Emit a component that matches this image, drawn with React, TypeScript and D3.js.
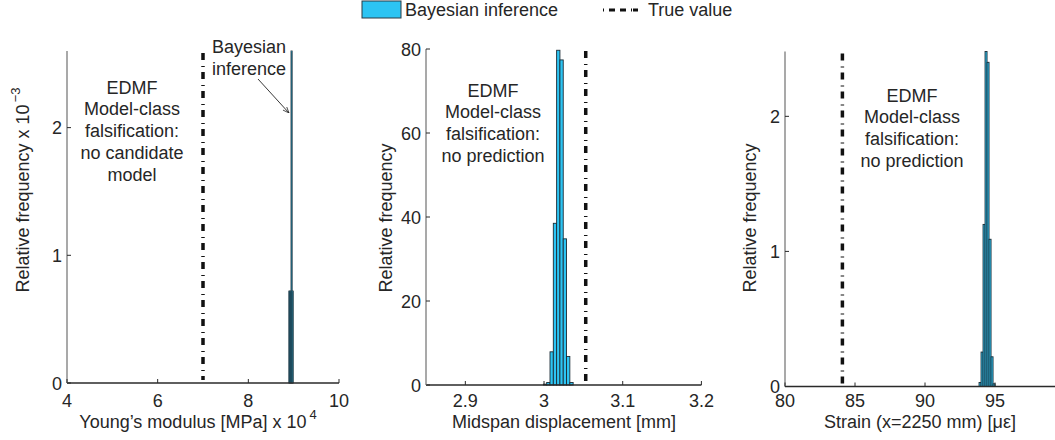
import React from "react";
import * as d3 from "d3";

// ---------- data ----------
const youngBinStarts = [8.894, 8.918, 8.942, 8.966];
const youngBinWidth = 0.024;
const youngFreq = [0.72, 0.72, 2.6, 0.72]; // x 10^-3
const youngTrue = 7;
const youngXTicks = [4, 6, 8, 10];
const youngYTicks = [0, 1, 2];

const dispBinStarts = [2.9992, 3.0034, 3.0076, 3.0118, 3.016, 3.0202, 3.0244, 3.0286, 3.0328];
const dispBinWidth = 0.0042;
const dispFreq = [0.2, 0.6, 7.9, 38.5, 79.7, 77.4, 34.8, 6.8, 0.6];
const dispTrue = 3.053;
const dispXTicks = [2.9, 3, 3.1, 3.2];
const dispYTicks = [0, 20, 40, 60, 80];

const strainBinStarts = [93.86, 94.003, 94.146, 94.289, 94.432, 94.575, 94.718, 94.861];
const strainBinWidth = 0.143;
const strainFreq = [0.03, 0.255, 1.2, 2.48, 2.4, 1.09, 0.22, 0.02];
const strainTrue = 84.1;
const strainXTicks = [80, 85, 90, 95];
const strainYTicks = [0, 1, 2];

const legendLabels = ["Bayesian inference", "True value"];

const FONT = "'Liberation Sans', Arial, Helvetica, sans-serif";
const FS = 18;
const TXT = "#262626";
const BAR_FILL = "#2cc4f3";
const BAR_STROKE = "#1b2c36";

type PanelProps = {
  xDomain: [number, number];
  xRange: [number, number];
  yDomain: [number, number];
  yRange: [number, number];
  binStarts: number[];
  binWidth: number;
  freq: number[];
  trueVal: number;
  xTicks: number[];
  yTicks: number[];
  xLabel: React.ReactNode;
  xLabelX: number;
  yLabel: React.ReactNode;
  yLabelX: number;
  yLabelY: number;
  notes: string[];
  notesX: number;
  notesY: number;
};

function Panel(p: PanelProps) {
  const x = d3.scaleLinear().domain(p.xDomain).range(p.xRange);
  const y = d3.scaleLinear().domain(p.yDomain).range(p.yRange);
  const [x0, x1] = p.xRange;
  const [yb, yt] = p.yRange;
  return (
    <g>
      {p.binStarts.map((s, i) => (
        <rect
          key={i}
          x={x(s)}
          y={y(p.freq[i])}
          width={x(s + p.binWidth) - x(s)}
          height={y(0) - y(p.freq[i])}
          fill={BAR_FILL}
          stroke={BAR_STROKE}
          strokeWidth={0.9}
        />
      ))}
      <line
        x1={x(p.trueVal)}
        x2={x(p.trueVal)}
        y1={yt + 2}
        y2={yb - 3}
        stroke="#111"
        strokeWidth={3.5}
        strokeDasharray="7 6 1 5"
      />
      <line x1={x0} x2={x1} y1={yb} y2={yb} stroke="#2a2a2a" strokeWidth={1.5} />
      <line x1={x0} x2={x0} y1={yb} y2={yt} stroke="#8c8c8c" strokeWidth={1.5} />
      {p.xTicks.map((t) => (
        <g key={"xt" + t}>
          <line x1={x(t)} x2={x(t)} y1={yb} y2={yb - 4} stroke="#2a2a2a" strokeWidth={1} />
          <text x={x(t)} y={407} textAnchor="middle" fontSize={FS} fill={TXT}>
            {t}
          </text>
        </g>
      ))}
      {p.yTicks.map((t) => (
        <g key={"yt" + t}>
          <line x1={x0} x2={x0 + 4} y1={y(t)} y2={y(t)} stroke="#2a2a2a" strokeWidth={1} />
          <text x={x0 - 5} y={y(t) + 6.5} textAnchor="end" fontSize={FS} fill={TXT}>
            {t}
          </text>
        </g>
      ))}
      <text x={p.xLabelX} y={428} textAnchor="middle" fontSize={FS} fill={TXT}>
        {p.xLabel}
      </text>
      <text
        transform={`translate(${p.yLabelX},${p.yLabelY}) rotate(-90)`}
        textAnchor="middle"
        fontSize={FS}
        fill={TXT}
      >
        {p.yLabel}
      </text>
      {p.notes.map((n, i) => (
        <text key={i} x={p.notesX} y={p.notesY + i * 21.8} textAnchor="middle" fontSize={FS} fill={TXT}>
          {n}
        </text>
      ))}
    </g>
  );
}

export default function App() {
  return (
    <svg
      width={1055}
      height={440}
      style={{ position: "absolute", left: 0, top: 0, background: "#fff", fontFamily: FONT }}
    >
      <rect width={1055} height={440} fill="#fff" />
      {/* legend */}
      <rect x={362} y={1} width={39} height={17} fill={BAR_FILL} stroke="#2a3a44" strokeWidth={1} />
      <text x={405} y={16} fontSize={FS} fill={TXT}>
        {legendLabels[0]}
      </text>
      <line x1={603} x2={643} y1={10} y2={10} stroke="#111" strokeWidth={3} strokeDasharray="1 5 6 5 6 5 1" />
      <text x={648} y={16} fontSize={FS} fill={TXT}>
        {legendLabels[1]}
      </text>

      <Panel
        xDomain={[4, 10]}
        xRange={[67, 339]}
        yDomain={[0, 2.6]}
        yRange={[383, 51]}
        binStarts={youngBinStarts}
        binWidth={youngBinWidth}
        freq={youngFreq}
        trueVal={youngTrue}
        xTicks={youngXTicks}
        yTicks={youngYTicks}
        xLabel={
          <>
            Young’s modulus [MPa] x 10
            <tspan dx={3} dy={-9} fontSize={13}>
              4
            </tspan>
          </>
        }
        xLabelX={198}
        yLabel={
          <>
            Relative frequency x 10
            <tspan dx={2} dy={-9} fontSize={13}>
              −3
            </tspan>
          </>
        }
        yLabelX={29}
        yLabelY={190}
        notes={["EDMF", "Model-class", "falsification:", "no candidate", "model"]}
        notesX={132}
        notesY={93.5}
      />
      <text x={249} y={52.5} textAnchor="middle" fontSize={FS} fill={TXT}>
        Bayesian
      </text>
      <text x={249} y={74.5} textAnchor="middle" fontSize={FS} fill={TXT}>
        inference
      </text>
      <defs>
        <marker id="arr" viewBox="0 0 10 10" refX={10} refY={5} markerWidth={7} markerHeight={7} orient="auto">
          <path d="M0,1 L10,5 L0,9" fill="none" stroke="#222" strokeWidth={1.2} />
        </marker>
      </defs>
      <line x1={258} y1={79} x2={289} y2={113} stroke="#222" strokeWidth={0.9} markerEnd="url(#arr)" />

      <Panel
        xDomain={[2.85, 3.2]}
        xRange={[426, 701.4]}
        yDomain={[0, 80]}
        yRange={[385, 49]}
        binStarts={dispBinStarts}
        binWidth={dispBinWidth}
        freq={dispFreq}
        trueVal={dispTrue}
        xTicks={dispXTicks}
        yTicks={dispYTicks}
        xLabel="Midspan displacement [mm]"
        xLabelX={564}
        yLabel="Relative frequency"
        yLabelX={392}
        yLabelY={218}
        notes={["EDMF", "Model-class", "falsification:", "no prediction"]}
        notesX={493}
        notesY={96.5}
      />

      <Panel
        xDomain={[80, 100]}
        xRange={[785, 1065]}
        yDomain={[0, 2.48]}
        yRange={[386.5, 51.5]}
        binStarts={strainBinStarts}
        binWidth={strainBinWidth}
        freq={strainFreq}
        trueVal={strainTrue}
        xTicks={strainXTicks}
        yTicks={strainYTicks}
        xLabel="Strain (x=2250 mm) [με]"
        xLabelX={920}
        yLabel="Relative frequency"
        yLabelX={756}
        yLabelY={218}
        notes={["EDMF", "Model-class", "falsification:", "no prediction"]}
        notesX={912}
        notesY={101.5}
      />
    </svg>
  );
}
